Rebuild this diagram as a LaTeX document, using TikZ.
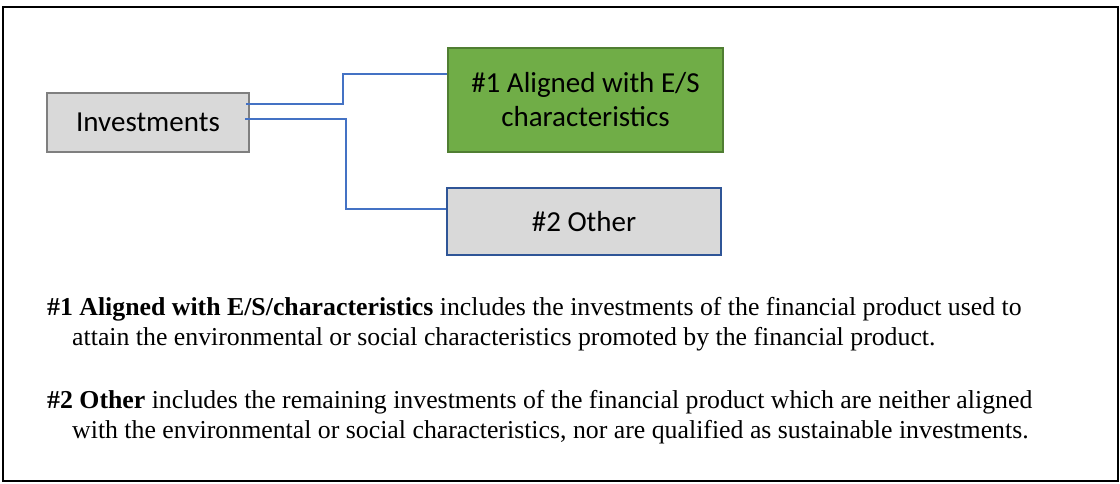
\documentclass[tikz,border=0pt]{standalone}
\usepackage{fontspec}
\setmainfont{Liberation Serif}
\newfontfamily\calibri{Carlito}
\usetikzlibrary{positioning}

\definecolor{boxgray}{HTML}{D9D9D9}
\definecolor{invedge}{HTML}{7F7F7F}
\definecolor{aligngreen}{HTML}{70AD47}
\definecolor{alignedge}{HTML}{507E32}
\definecolor{otheredge}{HTML}{2F5597}
\definecolor{linkblue}{HTML}{4472C4}

\begin{document}
\begin{tikzpicture}[x=1pt, y=-1pt,
    box/.style={draw, line width=2pt, align=center,
      font=\calibri\fontsize{29}{34}\selectfont},
    link/.style={draw=linkblue, line width=1.5pt},
    note/.style={anchor=base west, align=left, inner sep=0pt,
      font=\fontsize{25.8}{30}\selectfont}]
  \useasboundingbox (0,0) rectangle (1120,483);
  \draw[line width=2pt] (2.5,7) rectangle (1117.5,480.5);

  \node[box, fill=boxgray, draw=invedge, minimum width=202pt, minimum height=59pt] (inv) at (148,122.5) {Investments};
  \node[box, fill=aligngreen, draw=alignedge, minimum width=275pt, minimum height=104pt] (aligned) at (585.5,100) {\#1 Aligned with E/S\\characteristics};
  \node[box, fill=boxgray, draw=otheredge, minimum width=274pt, minimum height=67pt] (other) at (584,221.5) {\#2 Other};

  \draw[link] ([xshift=-4pt, yshift=18.5pt]inv.east) -- ++(97,0) |- ([yshift=26pt]aligned.west);
  \draw[link] ([xshift=-5pt, yshift=3.5pt]inv.east) -- ++(101,0) |- ([yshift=12.5pt]other.west);

  \node[note] (note1) at (47,345) {\textbf{\#1 Aligned with E/S/characteristics} includes the investments of the financial product used to\\
    \hspace*{25pt}attain the environmental or social characteristics promoted by the financial product.};
  \node[note] (note2) at (47,438) {\textbf{\#2 Other} includes the remaining investments of the financial product which are neither aligned\\
    \hspace*{25pt}with the environmental or social characteristics, nor are qualified as sustainable investments.};
\end{tikzpicture}
\end{document}
